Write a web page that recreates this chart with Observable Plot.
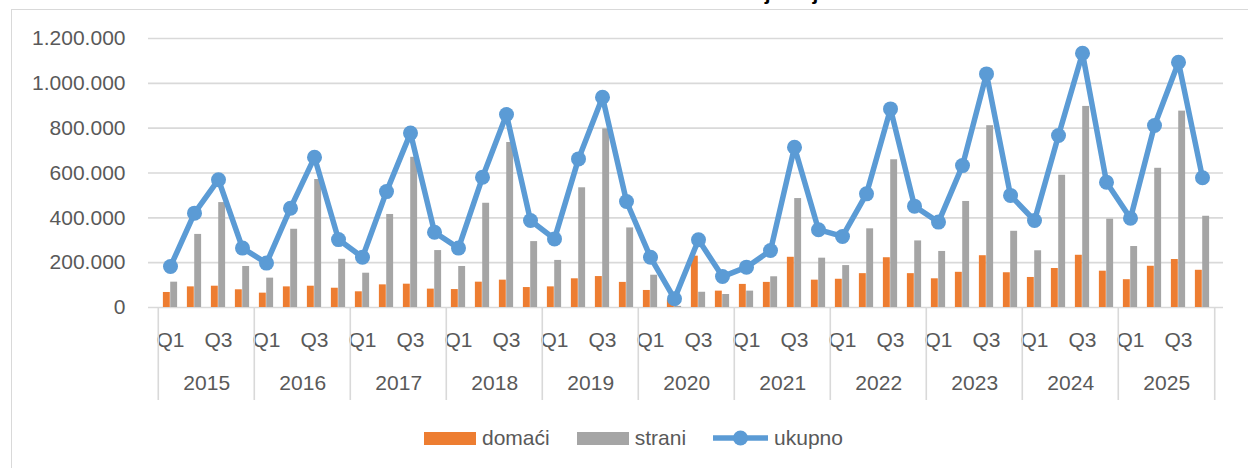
<!DOCTYPE html>
<html>
<head>
<meta charset="utf-8">
<script src="https://cdn.jsdelivr.net/npm/d3@7"></script>
<script src="https://cdn.jsdelivr.net/npm/@observablehq/plot@0.6"></script>
<style>
  html, body { margin: 0; padding: 0; background: #fff; overflow: hidden; }
  body { width: 1248px; height: 468px; position: relative; font-family: "Liberation Sans", Arial, sans-serif; }
  #frame { position: absolute; left: 11px; top: 9px; width: 1400px; height: 600px; border: 1.5px solid #D9D9D9; box-sizing: border-box; }
  #title { position: absolute; left: 0; width: 1268px; top: -18px; text-align: center; font-weight: bold; font-size: 21px; line-height: 21px; color: #000; white-space: nowrap; }
  #chart { position: absolute; left: 0; top: 0; }
  #legend { position: absolute; left: 424px; top: 426px; display: flex; align-items: center; font-size: 21px; color: #595959; }
  .item { display: flex; align-items: center; margin-right: 27px; }
  .item span { margin-left: 6px; }
  .sw { width: 52px; height: 13px; }
</style>
</head>
<body>
<div id="frame"></div>
<div id="title">Dolasci turista u kolektivnom smještaju</div>
<div id="chart"></div>
<div id="legend"></div>
<script>
const years = [2015, 2016, 2017, 2018, 2019, 2020, 2021, 2022, 2023, 2024, 2025];
const quarters = ["Q1", "Q2", "Q3", "Q4"];
const seriesNames = ["domaći", "strani", "ukupno"];
const domaci = [
  67000, 92000, 95000, 79000,
  64000, 92000, 95000, 86000,
  70000, 101000, 104000, 82000,
  80000, 113000, 122000, 89000,
  92000, 128000, 138000, 112000,
  76000, 34000, 229000, 73000,
  103000, 112000, 224000, 122000,
  126000, 151000, 222000, 151000,
  128000, 157000, 231000, 155000,
  134000, 174000, 233000, 162000,
  124000, 184000, 214000, 166000
];
const strani = [
  113000, 326000, 468000, 183000,
  131000, 349000, 571000, 215000,
  153000, 415000, 670000, 254000,
  183000, 465000, 736000, 294000,
  210000, 534000, 797000, 355000,
  144000, 5000, 68000, 58000,
  73000, 137000, 486000, 220000,
  187000, 351000, 659000, 297000,
  250000, 473000, 811000, 340000,
  253000, 590000, 897000, 394000,
  272000, 621000, 876000, 407000
];
const ukupno = [
  183000, 421000, 570000, 265000,
  198000, 443000, 670000, 303000,
  224000, 517000, 778000, 336000,
  265000, 581000, 861000, 388000,
  306000, 663000, 938000, 473000,
  224000, 39000, 302000, 138000,
  180000, 254000, 715000, 347000,
  317000, 507000, 886000, 452000,
  381000, 633000, 1042000, 500000,
  388000, 767000, 1134000, 559000,
  398000, 812000, 1094000, 579000
];
const yTicks = [0, 200000, 400000, 600000, 800000, 1000000, 1200000];

const colors = { "domaći": "#ED7D31", "strani": "#A5A5A5", "ukupno": "#5B9BD5" };

const keys = [];
const rows = [];
years.forEach((yr, i) => quarters.forEach((q, j) => {
  const k = i * 4 + j;
  const key = yr + "-" + q;
  keys.push(key);
  rows.push({ key, year: yr, q, domaci: domaci[k], strani: strani[k], ukupno: ukupno[k] });
}));

const W = 1248, H = 410, ML = 148, MR = 25, MT = 38, MB = 103;
const bw = (W - ML - MR) / keys.length;
const locale = d3.formatLocale({ decimal: ",", thousands: ".", grouping: [3], currency: ["", ""] });
const fmt = locale.format(",d");

const yearStarts = years.map(y => y + "-Q1");

const chart = Plot.plot({
  width: W, height: H,
  marginLeft: ML, marginRight: MR, marginTop: MT, marginBottom: MB,
  style: { fontFamily: "Liberation Sans, Arial, sans-serif", fontSize: "21px", color: "#595959", background: "transparent" },
  x: { type: "band", domain: keys, padding: 0, label: null },
  y: { domain: [0, 1200000], label: null },
  marks: [
    Plot.ruleY(yTicks, { stroke: "#D9D9D9", strokeWidth: 1.6 }),
    Plot.axisY(yTicks, { tickSize: 0, tickPadding: 23, tickFormat: fmt, fill: "#595959", label: null }),
    Plot.barY(rows, { x: "key", y: "domaci", fill: colors["domaći"], insetLeft: bw * 0.2, insetRight: bw * 0.5 }),
    Plot.barY(rows, { x: "key", y: "strani", fill: colors["strani"], insetLeft: bw * 0.5, insetRight: bw * 0.2 }),
    Plot.line(rows, { x: "key", y: "ukupno", stroke: colors["ukupno"], strokeWidth: 5.5, strokeLinejoin: "round" }),
    Plot.dot(rows, { x: "key", y: "ukupno", fill: colors["ukupno"], r: 7.5 }),
    Plot.axisX(keys, { tickSize: 0, tickPadding: 25, fill: "#595959", label: null,
      tickFormat: k => (k.endsWith("Q1") ? "Q1" : k.endsWith("Q3") ? "Q3" : "") }),
    Plot.axisX(yearStarts, { tickSize: 93, tickFormat: () => "", label: null, stroke: "#D9D9D9", strokeWidth: 1.6, dx: -bw / 2 }),
    Plot.axisX([keys[keys.length - 1]], { tickSize: 93, tickFormat: () => "", label: null, stroke: "#D9D9D9", strokeWidth: 1.6, dx: bw / 2 }),
    Plot.text(years, { x: y => y + "-Q2", dx: bw / 2, frameAnchor: "bottom", dy: 82, text: y => String(y), fill: "#595959" })
  ]
});
document.getElementById("chart").appendChild(chart);

const legend = document.getElementById("legend");
seriesNames.forEach(name => {
  const item = document.createElement("div");
  item.className = "item";
  if (name === "ukupno") {
    item.innerHTML = `<svg width="55" height="16"><line x1="0" y1="8" x2="55" y2="8" stroke="${colors[name]}" stroke-width="5.5" stroke-linecap="round"/><circle cx="27.5" cy="8" r="7.5" fill="${colors[name]}"/></svg><span>${name}</span>`;
  } else {
    item.innerHTML = `<div class="sw" style="background:${colors[name]}"></div><span>${name}</span>`;
  }
  legend.appendChild(item);
});
</script>
</body>
</html>
